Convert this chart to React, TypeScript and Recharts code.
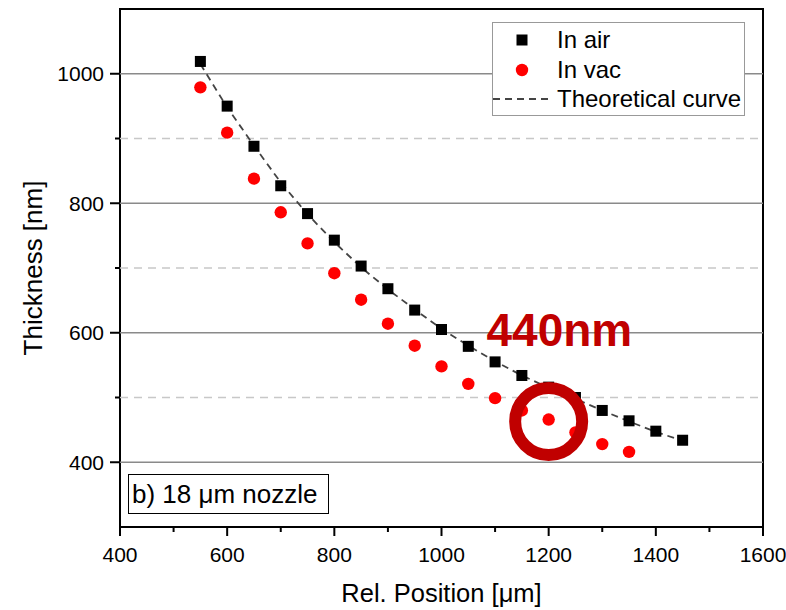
import React from 'react';
import {
  ScatterChart, Scatter, XAxis, YAxis, ReferenceLine, ReferenceDot, ReferenceArea, Legend, Label,
} from 'recharts';

// positions in µm
const airPositions = [550, 600, 650, 700, 750, 800, 850, 900, 950, 1000, 1050, 1100, 1150, 1200, 1250, 1300, 1350, 1400, 1450];
const airThickness = [1019, 950, 888, 827, 784, 743, 703, 668, 635, 605, 579, 555, 534, 516, 500, 480, 464, 448, 434];

const vacPositions = [550, 600, 650, 700, 750, 800, 850, 900, 950, 1000, 1050, 1100, 1150, 1200, 1250, 1300, 1350];
const vacThickness = [979, 909, 838, 786, 738, 692, 651, 614, 580, 548, 521, 499, 480, 466, 446, 428, 416];

const theoryPositions = [550, 600, 650, 700, 750, 800, 850, 900, 950, 1000, 1050, 1100, 1150, 1200, 1250, 1300, 1350, 1400, 1450];
const theoryThickness = [1015, 948, 889, 832, 783, 740, 701, 667, 636, 606, 580, 556, 534, 515, 498, 480, 463, 447, 433];

const xTicks = [400, 500, 600, 700, 800, 900, 1000, 1100, 1200, 1300, 1400, 1500, 1600];
const yTicks = [400, 500, 600, 700, 800, 900, 1000];
const majorGrid = [400, 600, 800, 1000];
const minorGrid = [500, 700, 900];

const highlight = { x: 1200, y: 463, text: '440nm' };
const highlightLabelAt = { x: 1084, y: 580 };

const air = airPositions.map((x, i) => ({ x, y: airThickness[i] }));
const vac = vacPositions.map((x, i) => ({ x, y: vacThickness[i] }));
const theory = theoryPositions.map((x, i) => ({ x, y: theoryThickness[i] }));

const FONT = '"Liberation Sans", Arial, sans-serif';
const DARK_RED = '#c00000';

const Square = (props: any) => {
  const { cx, cy } = props;
  return <rect x={cx - 5.5} y={cy - 5.5} width={11} height={11} fill="#000" />;
};
const Dot = (props: any) => <circle cx={props.cx} cy={props.cy} r={6.2} fill="#ff0000" />;
const NoShape = () => null;

const XTick = (props: any) => {
  const { x, y, payload } = props;
  const major = (payload.value - 400) % 200 === 0;
  return (
    <g>
      <line x1={x} y1={y} x2={x} y2={y + (major ? 9 : 5)} stroke="#000" strokeWidth={2} />
      {major && (
        <text x={x} y={y + 35} textAnchor="middle" fontSize={21} fontFamily={FONT} fill="#000">
          {payload.value}
        </text>
      )}
    </g>
  );
};

const YTick = (props: any) => {
  const { x, y, payload } = props;
  const major = payload.value % 200 === 0;
  return (
    <g>
      <line x1={x} y1={y} x2={x - (major ? 10 : 5)} y2={y} stroke="#000" strokeWidth={2} />
      {major && (
        <text x={x - 16} y={y} dy="0.35em" textAnchor="end" fontSize={21} fontFamily={FONT} fill="#000">
          {payload.value}
        </text>
      )}
    </g>
  );
};

const renderLegend = () => (
  <svg width={253} height={94} style={{ display: 'block', background: '#fff' }}>
    <rect x={0.5} y={0.5} width={252} height={93} fill="#fff" stroke="#999" />
    <rect x={24.5} y={12.5} width={11} height={11} fill="#000" />
    <text x={65} y={18} dy="0.35em" fontSize={24} fontFamily={FONT}>In air</text>
    <circle cx={30} cy={48} r={6.2} fill="#ff0000" />
    <text x={65} y={48} dy="0.35em" fontSize={24} fontFamily={FONT}>In vac</text>
    <line x1={1} y1={77} x2={58} y2={77} stroke="#444" strokeWidth={1.8} strokeDasharray="7 5" />
    <text x={65} y={77} dy="0.35em" fontSize={24} fontFamily={FONT}>Theoretical curve</text>
  </svg>
);

export default function App() {
  return (
    <div style={{ position: 'absolute', left: 0, top: 0, width: 786, height: 610, background: '#fff' }}>
      <ScatterChart width={786} height={610} margin={{ top: 9, right: 23, left: 0, bottom: 0 }}>
        <XAxis
          type="number"
          dataKey="x"
          domain={[400, 1600]}
          ticks={xTicks}
          interval={0}
          height={83}
          tickSize={0}
          tickMargin={0}
          tickLine={false}
          axisLine={false}
          tick={<XTick />}
        >
          <Label
            content={(p: any) => {
              const vb = p.viewBox || { x: 120, y: 527, width: 643 };
              return (
                <text x={vb.x + vb.width / 2} y={vb.y + 75} textAnchor="middle" fontSize={25.5} fontFamily={FONT} fill="#000">
                  Rel. Position [μm]
                </text>
              );
            }}
          />
        </XAxis>
        <YAxis
          type="number"
          dataKey="y"
          domain={[300, 1100]}
          ticks={yTicks}
          interval={0}
          width={120}
          tickSize={0}
          tickMargin={0}
          tickLine={false}
          axisLine={false}
          tick={<YTick />}
        >
          <Label
            content={(p: any) => {
              const vb = p.viewBox || { x: 0, y: 9, height: 518 };
              const cx = vb.x + 42;
              const cy = vb.y + vb.height / 2;
              return (
                <text x={cx} y={cy} transform={`rotate(-90, ${cx}, ${cy})`} textAnchor="middle" fontSize={26} fontFamily={FONT} fill="#000">
                  Thickness [nm]
                </text>
              );
            }}
          />
        </YAxis>

        {minorGrid.map((v) => (
          <ReferenceLine key={`mn${v}`} y={v} stroke="#c8c8c8" strokeWidth={1.5} strokeDasharray="8 6" />
        ))}
        {majorGrid.map((v) => (
          <ReferenceLine key={`mj${v}`} y={v} stroke="#8a8a8a" strokeWidth={1.5} />
        ))}

        <Scatter
          name="Theoretical curve"
          data={theory}
          line={{ stroke: '#444', strokeWidth: 1.8, strokeDasharray: '7 5' }}
          lineType="joint"
          shape={<NoShape />}
          isAnimationActive={false}
        />
        <Scatter name="In air" data={air} shape={<Square />} isAnimationActive={false} />
        <Scatter name="In vac" data={vac} shape={<Dot />} isAnimationActive={false} />

        <ReferenceDot
          x={highlight.x}
          y={highlight.y}
          r={33.5}
          fill="none"
          stroke={DARK_RED}
          strokeWidth={12}
        />
        <ReferenceDot
          x={highlightLabelAt.x}
          y={highlightLabelAt.y}
          r={0}
          fill="none"
          stroke="none"
          label={(p: any) => {
            const vb = p.viewBox || { x: 0, y: 0 };
            const lx = vb.x !== undefined ? vb.x : 0;
            const ly = vb.y !== undefined ? vb.y : 0;
            return (
              <text x={lx} y={ly} fontSize={46} fontWeight="bold" fontFamily={FONT} fill={DARK_RED}>
                {highlight.text}
              </text>
            );
          }}
        />

        <ReferenceArea x1={400} x2={1600} y1={300} y2={1100} fill="none" stroke="#000" strokeWidth={2} ifOverflow="visible" />

        <Legend
          layout="vertical"
          align="center"
          verticalAlign="middle"
          content={renderLegend}
          wrapperStyle={{ position: 'absolute', left: 492, top: 22, width: 253, height: 94 }}
        />
      </ScatterChart>
      <div
        style={{
          position: 'absolute', left: 128, top: 474, width: 196, height: 38,
          border: '1px solid #000', background: '#fff', fontFamily: FONT, fontSize: 26,
          lineHeight: '38px', paddingLeft: 3, boxSizing: 'content-box', whiteSpace: 'nowrap',
        }}
      >
        b) 18 μm nozzle
      </div>
    </div>
  );
}
